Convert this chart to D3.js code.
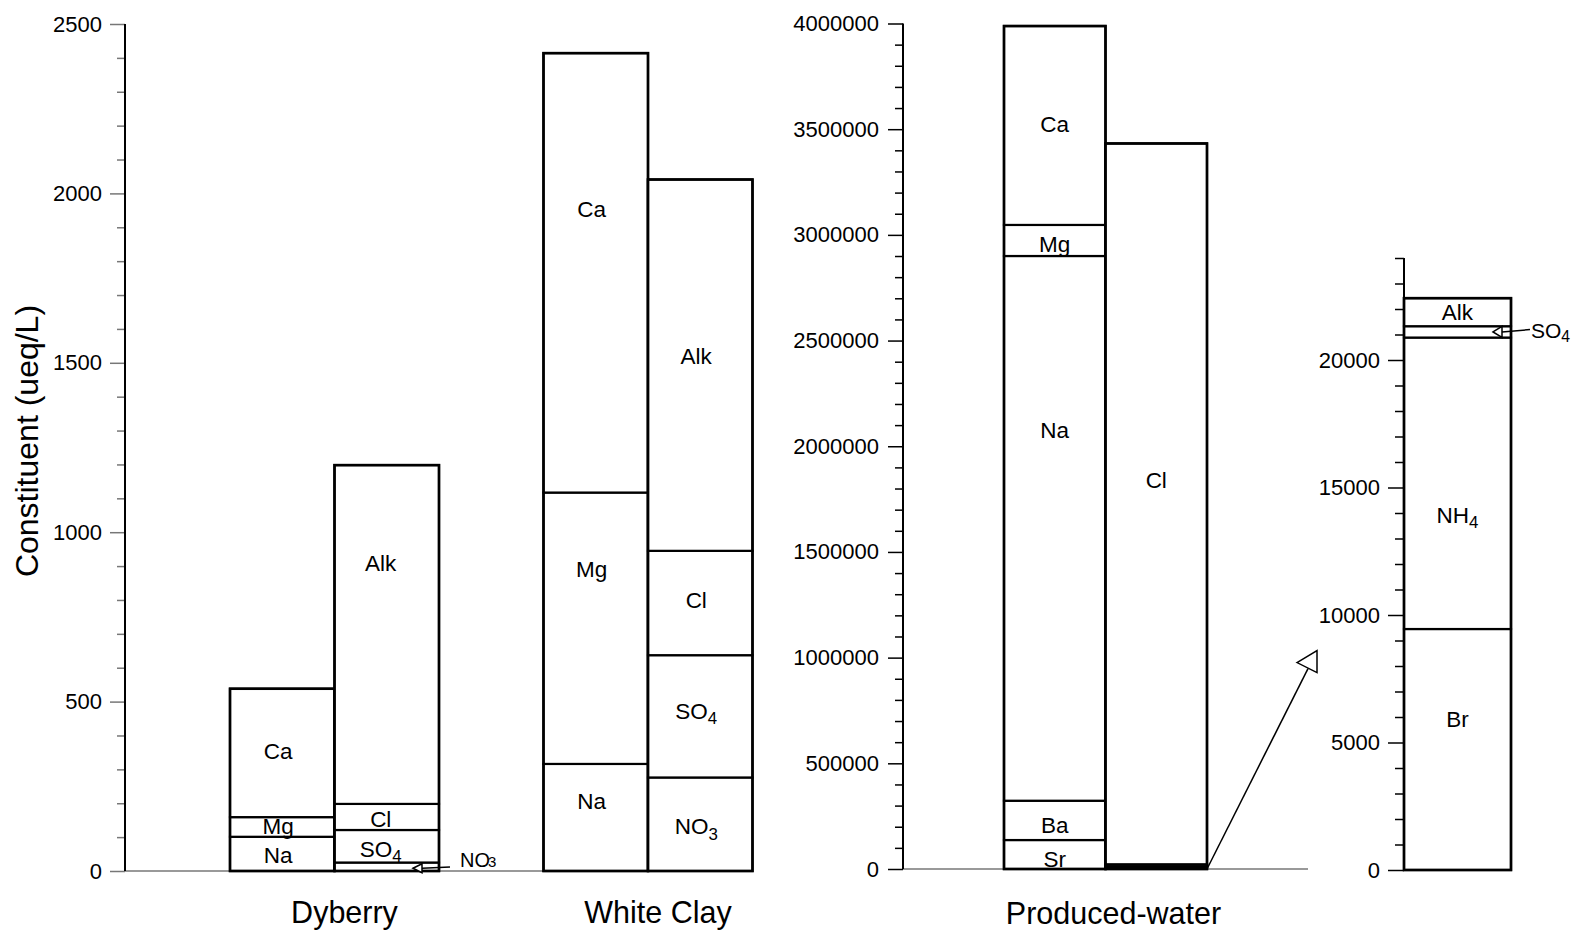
<!DOCTYPE html>
<html lang="en">
<head>
<meta charset="UTF-8">
<title>Constituents</title>
<script src="https://cdn.jsdelivr.net/npm/d3@7"></script>
<style>
body { margin: 0; background: #fff; }
svg { font-family: "Liberation Sans", Arial, sans-serif; }
</style>
</head>
<body>
<svg id="chart" width="1575" height="932"></svg>
<script>
// ---- data (ueq/L) ----
var streams = ['Dyberry', 'White Clay'];
var cationNames = ['Na', 'Mg', 'Ca'];
var anionNames = ['NO3', 'SO4', 'Cl', 'Alk'];
var dyberryCations = [101, 58, 379];
var dyberryAnions = [25, 96, 77, 1000];
var whiteClayCations = [316, 801, 1297];
var whiteClayAnions = [276, 361, 308, 1096];

var pwName = 'Produced-water';
var pwCationNames = ['Sr', 'Ba', 'Na', 'Mg', 'Ca'];
var pwCations = [137000, 186000, 2577000, 147000, 941000];
var pwAnionNames = ['Br', 'NH4', 'SO4', 'Alk', 'Cl'];
var pwAnions = [9450, 11430, 445, 1100, 3410000];

var leftTicks = [0, 500, 1000, 1500, 2000, 2500];
var pwTicks = [0, 500000, 1000000, 1500000, 2000000, 2500000, 3000000, 3500000, 4000000];
var insetTicks = [0, 5000, 10000, 15000, 20000];

// where the labels sit inside each segment (data units)
var dyberryCatLabelAt = [47, 133, 354];
var dyberryAnLabelAt = [null, 65, 154, 909];
var whiteClayCatLabelAt = [207, 892, 1955];
var whiteClayAnLabelAt = [131, 472, 799, 1519];
var pwCatLabelAt = [49000, 206000, 2077000, 2957000, 3522000];
var pwAnLabelAt = [null, null, null, null, 1840000];
var insetLabelAt = [5920, 13920, null, 21870];

var svg = d3.select('#chart');

var yL = d3.scaleLinear().domain([0, 2500]).range([871, 24]);
var yM = d3.scaleLinear().domain([0, 4000000]).range([869, 23.5]);
var yI = d3.scaleLinear().domain([0, 24000]).range([870, 258]);

var xL = d3.scalePoint().domain(streams).range([334.5, 648]);
var xM = d3.scalePoint().domain([pwName]).range([1004, 1207]);
var xI = d3.scaleBand().domain([pwName]).range([1404, 1511]);
var barL = 104.5, barM = 101.5;

function addLabel(g, name, x, y, size, anchor) {
    var m = name.match(/^([A-Za-z]+)(\d)$/);
    var t = g.append('text')
        .attr('x', x)
        .attr('y', y)
        .attr('dy', '0.35em')
        .attr('text-anchor', anchor || 'middle')
        .style('font-size', size + 'px');
    if (m) {
        t.append('tspan').text(m[1]);
        t.append('tspan').style('font-size', (size * 0.75) + 'px').attr('dy', '0.3em').text(m[2]);
    } else {
        t.text(name);
    }
    return t;
}

// draws one stacked bar; segment lines then outline
function stackBar(g, x0, w, y, names, vals, labelAt, dx) {
    var tops = d3.cumsum(vals);
    var bots = [0].concat(Array.from(tops).slice(0, -1));
    vals.forEach(function(v, i) {
        g.append('rect')
            .attr('x', x0).attr('width', w)
            .attr('y', y(tops[i])).attr('height', y(bots[i]) - y(tops[i]))
            .attr('fill', '#fff').attr('stroke', '#000').attr('stroke-width', 2.2);
    });
    g.append('rect')
        .attr('x', x0).attr('width', w)
        .attr('y', y(tops[tops.length - 1])).attr('height', y(0) - y(tops[tops.length - 1]))
        .attr('fill', 'none').attr('stroke', '#000').attr('stroke-width', 2.6);
    names.forEach(function(n, i) {
        if (labelAt[i] == null) return;
        addLabel(g, n, x0 + w / 2 + (dx || 0), y(labelAt[i]), 22.5);
    });
}

function drawAxis(tx, y, ticks, minorStep, major, minor, pad, color) {
    var g = svg.append('g').attr('transform', 'translate(' + tx + ',0)');
    var minorVals = d3.range(0, y.domain()[1] + 1, minorStep).filter(function(v) {
        return ticks.indexOf(v) < 0;
    });
    g.append('g').call(d3.axisLeft(y).tickValues(minorVals).tickSize(minor).tickFormat(''));
    var gM = g.append('g').call(d3.axisLeft(y).tickValues(ticks).tickSize(major).tickPadding(pad).tickFormat(d3.format('d')));
    g.selectAll('.domain').remove();
    g.selectAll('.tick line').attr('stroke', color).attr('stroke-width', 1.5);
    gM.selectAll('.tick text').style('font-size', '22px').attr('fill', '#000')
        .style('font-family', '"Liberation Sans", Arial, sans-serif');
    g.append('line')
        .attr('x1', 0).attr('x2', 0)
        .attr('y1', y.range()[1]).attr('y2', y.range()[0])
        .attr('stroke', '#000').attr('stroke-width', 2);
    return g;
}

function arrowHead(g, tipX, tipY, backX, half) {
    g.append('path')
        .attr('d', 'M' + tipX + ',' + tipY + 'L' + backX + ',' + (tipY - half) + 'L' + backX + ',' + (tipY + half) + 'Z')
        .attr('fill', '#fff').attr('stroke', '#000').attr('stroke-width', 1.5);
}

// ---- left panel ----
svg.append('line')
    .attr('x1', 125).attr('x2', xL('White Clay') + barL)
    .attr('y1', yL(0)).attr('y2', yL(0))
    .attr('stroke', '#777').attr('stroke-width', 1.5);
drawAxis(125, yL, leftTicks, 100, 15, 8, 8, '#777');

var gl = svg.append('g');
stackBar(gl, xL('Dyberry') - barL, barL, yL, cationNames, dyberryCations, dyberryCatLabelAt, -4);
stackBar(gl, xL('Dyberry'), barL, yL, anionNames, dyberryAnions, dyberryAnLabelAt, -6);
stackBar(gl, xL('White Clay') - barL, barL, yL, cationNames, whiteClayCations, whiteClayCatLabelAt, -4);
stackBar(gl, xL('White Clay'), barL, yL, anionNames, whiteClayAnions, whiteClayAnLabelAt, -4);

// NO3 callout for Dyberry
var dyR = xL('Dyberry') + barL;
gl.append('line')
    .attr('x1', dyR - 17).attr('y1', yL(8))
    .attr('x2', dyR + 11).attr('y2', yL(12))
    .attr('stroke', '#000').attr('stroke-width', 1.5);
arrowHead(gl, dyR - 26, yL(8), dyR - 17, 4.5);
var no3 = gl.append('text').attr('x', dyR + 21).attr('y', yL(33)).attr('dy', '0.35em').style('font-size', '20px');
no3.append('tspan').text('NO');
no3.append('tspan').attr('dx', -2).style('font-size', '15px').text('3');

streams.forEach(function(s) {
    svg.append('text')
        .attr('x', xL(s) + 10).attr('y', 923)
        .attr('text-anchor', 'middle')
        .style('font-size', '30.5px')
        .text(s);
});

svg.append('text')
    .attr('transform', 'translate(38,441) rotate(-90)')
    .attr('text-anchor', 'middle')
    .style('font-size', '32px')
    .text('Constituent (ueq/L)');

// ---- produced-water panel ----
svg.append('line')
    .attr('x1', 903).attr('x2', 1308)
    .attr('y1', yM(0)).attr('y2', yM(0))
    .attr('stroke', '#777').attr('stroke-width', 1.5);
drawAxis(903, yM, pwTicks, 100000, 15, 8, 9, '#000');

var gm = svg.append('g');
stackBar(gm, xM(pwName) - barM, barM, yM, pwCationNames, pwCations, pwCatLabelAt, 0);
stackBar(gm, xM(pwName), barM, yM, pwAnionNames, pwAnions, pwAnLabelAt, 0);

svg.append('text')
    .attr('x', xM(pwName) + 8).attr('y', 924)
    .attr('text-anchor', 'middle')
    .style('font-size', '30.5px')
    .text(pwName);

// ---- inset: low-concentration part of the produced-water anion bar ----
drawAxis(xI(pwName), yI, insetTicks, 1000, 16, 9, 8, '#000');
var gi = svg.append('g');
var insetNames = pwAnionNames.slice(0, 4);
var insetVals = pwAnions.slice(0, 4);
stackBar(gi, xI(pwName), xI.bandwidth(), yI, insetNames, insetVals, insetLabelAt, 0);

// SO4 callout
var inR = xI(pwName) + xI.bandwidth();
var so4Mid = d3.sum(insetVals.slice(0, 2)) + insetVals[2] / 2;
gi.append('line')
    .attr('x1', inR - 9).attr('y1', yI(so4Mid))
    .attr('x2', inR + 19).attr('y2', yI(so4Mid + 90))
    .attr('stroke', '#000').attr('stroke-width', 1.5);
arrowHead(gi, inR - 18, yI(so4Mid), inR - 9, 5.5);
addLabel(gi, 'SO4', inR + 20, yI(so4Mid + 60), 21, 'start');

// zoom arrow from produced-water bar to inset
var ax0 = xM(pwName) + barM, ay0 = yM(0);
var ax1 = xI(pwName) - 96, ay1 = yI(7900);
svg.append('line')
    .attr('x1', ax0).attr('y1', ay0)
    .attr('x2', ax1).attr('y2', ay1)
    .attr('stroke', '#000').attr('stroke-width', 1.5);
svg.append('path')
    .attr('d', 'M' + (ax1 - 11) + ',' + (ay1 - 6) + 'L' + (ax1 + 9) + ',' + (ay1 - 18) + 'L' + (ax1 + 9) + ',' + (ay1 + 4) + 'Z')
    .attr('fill', '#fff').attr('stroke', '#000').attr('stroke-width', 1.5);
</script>
</body>
</html>
